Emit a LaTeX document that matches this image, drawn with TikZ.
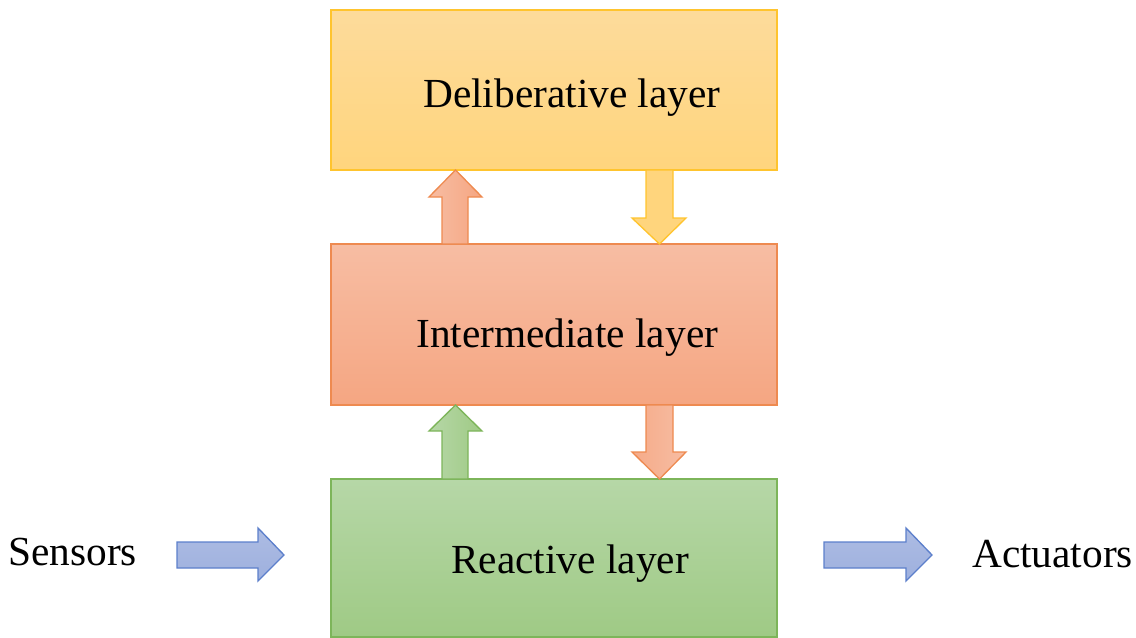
\documentclass[tikz,border=0pt]{standalone}
\usepackage{fontspec}
\setmainfont{Liberation Serif}
\begin{document}
\begin{tikzpicture}[x=0.75pt,y=-0.75pt,
  lbl/.style={inner sep=0pt,anchor=base west,font=\fontsize{31pt}{36pt}\selectfont,text=black},
  layerbox/.style={draw,line width=1pt,inner sep=0pt,minimum width=446*0.75pt},
  yelbox/.style={layerbox,draw=yelline,top color=yeltop,bottom color=yelbot},
  orabox/.style={layerbox,draw=oraline,top color=oratop,bottom color=orabot},
  grebox/.style={layerbox,draw=greline,top color=gretop,bottom color=grebot},
  blockarrow/.style={line width=1pt,line join=miter}
]
\definecolor{yelline}{HTML}{FFC42E}
\definecolor{yeltop}{HTML}{FDDB9B}
\definecolor{yelbot}{HTML}{FFD57D}
\definecolor{oraline}{HTML}{EE8A50}
\definecolor{oratop}{HTML}{F7BDA3}
\definecolor{orabot}{HTML}{F5A682}
\definecolor{greline}{HTML}{7DB55A}
\definecolor{gretop}{HTML}{B6D7A7}
\definecolor{grebot}{HTML}{9FCA85}
\definecolor{bluline}{HTML}{5C7FCB}
\definecolor{blufill}{HTML}{9EB0DE}
\useasboundingbox (0,0) rectangle (1136,637);
% layer boxes
\node[yelbox,minimum height=160*0.75pt] (delib) at (554,90) {};
\node[orabox,minimum height=161*0.75pt] (inter) at (554,324.5) {};
\node[grebox,minimum height=158*0.75pt] (react) at (554,558) {};
% texts
\node[lbl] (tdelib) at (423,107) {Deliberative layer};
\node[lbl] (tinter) at (416,347) {Intermediate layer};
\node[lbl] (treact) at (451,573) {Reactive layer};
\node[lbl] (tsens) at (8,565) {Sensors};
\node[lbl] (tact) at (972,567) {Actuators};
% up arrow: intermediate -> deliberative
\draw[blockarrow,draw=oraline,left color=oratop,right color=orabot]
  (442,244) -- (442,197) -- (429,197) -- (455.5,170) -- (482,197) -- (468,197) -- (468,244) -- cycle;
% down arrow: deliberative -> intermediate
\draw[blockarrow,draw=yelline,fill=yelbot]
  (646,170) -- (673,170) -- (673,218) -- (686,218) -- (659.5,244) -- (632,218) -- (646,218) -- cycle;
% up arrow: reactive -> intermediate
\draw[blockarrow,draw=greline,left color=gretop,right color=grebot]
  (442,479) -- (442,431) -- (429,431) -- (455.5,405) -- (482,431) -- (468,431) -- (468,479) -- cycle;
% down arrow: intermediate -> reactive
\draw[blockarrow,draw=oraline,left color=orabot!80!oratop,right color=oratop]
  (646,405) -- (673,405) -- (673,452) -- (686,452) -- (659.5,479) -- (632,452) -- (646,452) -- cycle;
% sensors arrow
\draw[blockarrow,draw=bluline,top color=blufill!85!white,bottom color=blufill]
  (177,542) -- (258,542) -- (258,528) -- (284,555) -- (258,581) -- (258,568) -- (177,568) -- cycle;
% actuators arrow
\draw[blockarrow,draw=bluline,top color=blufill!85!white,bottom color=blufill]
  (824,542) -- (906,542) -- (906,528) -- (932,555) -- (906,581) -- (906,568) -- (824,568) -- cycle;
\end{tikzpicture}
\end{document}
